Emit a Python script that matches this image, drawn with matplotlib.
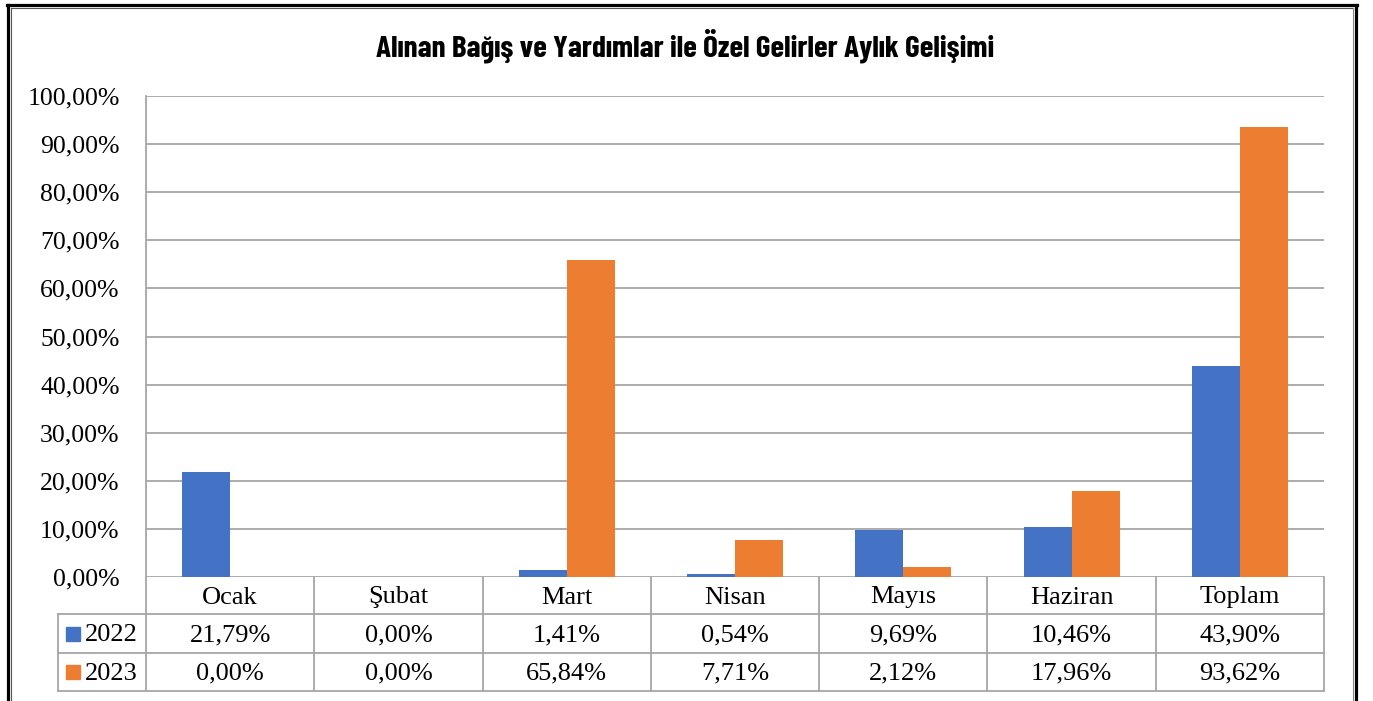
import matplotlib
matplotlib.use("Agg")
import matplotlib.pyplot as plt
from matplotlib.lines import Line2D
from matplotlib.patches import Rectangle
from matplotlib.transforms import blended_transform_factory
from matplotlib import font_manager
import numpy as np

categories = ["Ocak", "Şubat", "Mart", "Nisan", "Mayıs", "Haziran", "Toplam"]
series_names = ["2022", "2023"]
values_2022 = [21.79, 0.00, 1.41, 0.54, 9.69, 10.46, 43.90]
values_2023 = [0.00, 0.00, 65.84, 7.71, 2.12, 17.96, 93.62]
yticks = [0, 10, 20, 30, 40, 50, 60, 70, 80, 90, 100]
title = "Alınan Bağış ve Yardımlar ile Özel Gelirler Aylık Gelişimi"

colors = ["#4472C4", "#ED7D31"]
grid_c = "#A6A6A6"
W, H = 1373, 701

bold_names = {f.name for f in font_manager.fontManager.ttflist
              if (isinstance(f.weight, int) and f.weight >= 600) or f.weight in ("bold", "semibold", "heavy", "black")}
title_font = "DejaVu Sans"
for cand in ["Tw Cen MT Condensed", "Barlow Condensed", "Roboto Condensed", "Saira Condensed",
             "Archivo Narrow", "Oswald", "Fjalla One", "Liberation Sans Narrow"]:
    if cand in bold_names:
        title_font = cand
        break

def fmt(v):
    return f"{v:.2f}".replace(".", ",") + "%"

fig = plt.figure(figsize=(W / 100, H / 100), dpi=100)
fig.patch.set_facecolor("white")

def fx(x):
    return x / W
def fy(y):
    return 1 - y / H

ax = fig.add_axes([fx(146), fy(577), fx(1324) - fx(146), fy(96) - fy(577)])
n = len(categories)
x = np.arange(n) + 0.5
bw = 0.285
ax.bar(x - bw / 2, values_2022, bw, color=colors[0], zorder=3)
ax.bar(x + bw / 2, values_2023, bw, color=colors[1], zorder=3)
ax.set_xlim(0, n)
ax.set_ylim(0, 100)
ax.set_yticks(yticks)
ax.set_yticklabels([fmt(v) for v in yticks], fontfamily="Liberation Serif", fontsize=18.5)
ax.set_xticks([])
ax.tick_params(axis="y", length=0, pad=19)
for s in ["top", "right", "bottom"]:
    ax.spines[s].set_visible(False)
ax.spines["left"].set_color(grid_c)
ax.spines["left"].set_linewidth(1.3)
ax.yaxis.grid(True, color=grid_c, linewidth=1.3, zorder=0)
ax.set_axisbelow(True)

# data table
tr = blended_transform_factory(ax.transData, fig.transFigure)
tf = fig.transFigure
y_hdr_top, y_r1, y_r2, y_bot = 577, 614, 653, 691
lw = 1.3
for yy in (y_r1, y_r2, y_bot):
    fig.add_artist(Line2D([fx(58), fx(1324)], [fy(yy)] * 2, color=grid_c, lw=lw, transform=tf))
for k in range(n + 1):
    fig.add_artist(Line2D([k, k], [fy(y_hdr_top), fy(y_bot)], color=grid_c, lw=lw, transform=tr))
fig.add_artist(Line2D([fx(58), fx(58)], [fy(y_r1), fy(y_bot)], color=grid_c, lw=lw, transform=tf))

tkw = dict(fontfamily="Liberation Serif", fontsize=19, ha="center", va="center", transform=tr)
for i, c in enumerate(categories):
    fig.text(x[i], fy((y_hdr_top + y_r1) / 2 + 2), c, **tkw)
    fig.text(x[i], fy((y_r1 + y_r2) / 2 + 1.5), fmt(values_2022[i]), **tkw)
    fig.text(x[i], fy((y_r2 + y_bot) / 2 + 1.5), fmt(values_2023[i]), **tkw)

for j, (nm, yc) in enumerate(zip(series_names, [(y_r1 + y_r2) / 2, (y_r2 + y_bot) / 2])):
    fig.add_artist(Rectangle((fx(66), fy(yc + 7)), fx(14), 14 / H, color=colors[j], transform=tf))
    fig.text(fx(85), fy(yc + 1.5), nm, fontfamily="Liberation Serif", fontsize=19,
             ha="left", va="center", transform=tf)

# title, sized toward the reference width (~631 px)
t = fig.text(fx(685), fy(46), title, fontfamily=[title_font, "DejaVu Sans"],
             fontweight="bold", fontsize=18, ha="center", va="center", transform=tf)
r = fig.canvas.get_renderer()
wpx = t.get_window_extent(renderer=r).width
size = 18 * 631 / wpx
t.set_fontsize(min(size, 22.5))

# frame
fig.add_artist(Line2D([fx(7.5), fx(7.5)], [fy(4.5), 0], color="black", lw=2.3, transform=tf))
fig.add_artist(Line2D([fx(7), fx(1356.5)], [fy(4.5)] * 2, color="black", lw=2.3, transform=tf))
fig.add_artist(Line2D([fx(1356), fx(1356)], [fy(4.5), 0], color="black", lw=2.3, transform=tf))
fig.add_artist(Line2D([fx(10.5), fx(10.5)], [fy(7.5), 0], color="#555555", lw=0.8, transform=tf))
fig.add_artist(Line2D([fx(10.5), fx(1353)], [fy(7.5)] * 2, color="#555555", lw=0.8, transform=tf))
fig.add_artist(Line2D([fx(1353), fx(1353)], [fy(7.5), 0], color="#888888", lw=0.8, transform=tf))

fig.savefig("out.png", dpi=100, facecolor="white")
